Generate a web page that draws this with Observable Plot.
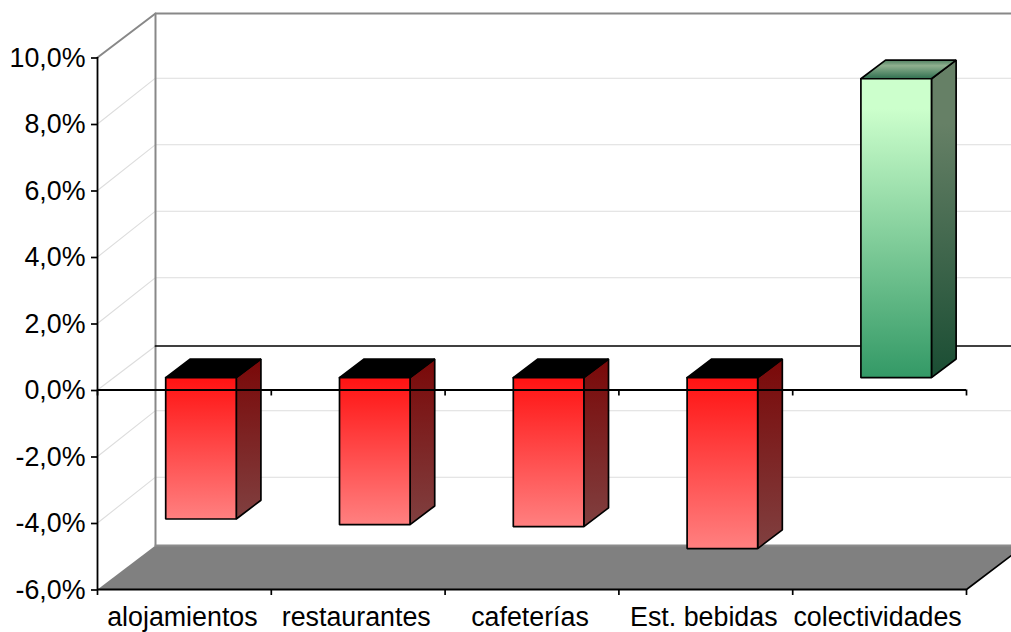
<!DOCTYPE html>
<html>
<head>
<meta charset="utf-8">
<style>html,body{margin:0;padding:0;background:#fff;overflow:hidden}svg{display:block;max-width:none!important}</style>
<script src="https://cdn.jsdelivr.net/npm/d3@7"></script>
<script src="https://cdn.jsdelivr.net/npm/@observablehq/plot@0.6"></script>
</head>
<body>
<script>
const categories = ["alojamientos", "restaurantes", "cafeterías", "Est. bebidas", "colectividades"];
const values = [-4.25, -4.42, -4.48, -5.14, 8.99];
const yTicks = [-6, -4, -2, 0, 2, 4, 6, 8, 10];
const slotEdges = [0, 1, 2, 3, 4, 5];
const labelPositions = [0.5, 1.5, 2.5, 3.5, 4.5];

// oblique projection: a point at depth d (0 front, 1 back wall) shifts by these data units
const depthX = 0.3337, depthY = 1.323;
const barFrontDepth = 0.28, barBackDepth = 0.705, barHalf = 0.203, barShift = 0.002, gridShift = 0.055;
const P = (x, v, d) => ({x: x + d * depthX, y: v + d * depthY});
const poly = (id, pts) => [...pts, pts[0]].map((p) => ({...p, id}));

function barFaces(i) {
  const v = values[i], c = i + 0.5 + barShift, l = c - barHalf, r = c + barHalf;
  const f = barFrontDepth, b = barBackDepth, top = Math.max(v, 0), bot = Math.min(v, 0);
  return {
    front: poly(i, [P(l, top, f), P(r, top, f), P(r, bot, f), P(l, bot, f)]),
    side: poly(i, [P(r, top, f), P(r, top, b), P(r, bot, b), P(r, bot, f)]),
    top: poly(i, [P(l, top, f), P(r, top, f), P(r, top, b), P(l, top, b)])
  };
}
const idx = values.map((_, i) => i);
const neg = idx.filter((i) => values[i] < 0), pos = idx.filter((i) => values[i] >= 0);
const faces = (set, k) => set.flatMap((i) => barFaces(i)[k]);

const faceMark = (data, fill, stroke = "black") =>
  Plot.line(data, {x: "x", y: "y", z: "id", fill, stroke, strokeWidth: 1.7, strokeLinejoin: "miter"});
const seg = (pts, stroke, strokeWidth) =>
  Plot.line(pts, {x: "x", y: "y", stroke, strokeWidth});

const gradient = (id, stops) =>
  `<linearGradient id="${id}" x1="0" y1="0" x2="0" y2="1">${stops.map(([o, c]) => `<stop offset="${o}" stop-color="${c}"/>`).join("")}</linearGradient>`;
const defs = () => {
  const s = d3.create("svg:defs");
  s.html(
    gradient("rf", [[0, "#ff1212"], [1, "#ff8080"]]) +
    gradient("rs", [[0, "#7a0808"], [1, "#804040"]]) +
    gradient("gf", [[0, "#ccffcc"], [0.1, "#ccffcc"], [1, "#339966"]]) +
    gradient("gs", [[0, "#668066"], [0.2, "#668066"], [1, "#1a4d33"]]) +
    gradient("gt", [[0, "#4f8060"], [0.3, "#8fb08f"], [1, "#2f7050"]])
  );
  return s.node();
};

const chart = Plot.plot({
  width: 1011,
  height: 632,
  marginLeft: 97,
  marginRight: 45,
  marginTop: 57,
  marginBottom: 43,
  style: {fontFamily: "'Liberation Sans', Arial, sans-serif", fontSize: "26.8px", color: "black", background: "white", overflow: "hidden"},
  x: {type: "linear", domain: [0, 5], axis: null},
  y: {type: "linear", domain: [-6, 10], axis: null},
  marks: [
    defs,
    // gridlines on the side wall and back wall
    ...yTicks.filter((t) => t !== 10 && t !== -6 && t !== 0).map((t) =>
      seg([P(0, t, 0), P(0, t + gridShift, 1), P(5, t + gridShift, 1)], "#dddddd", 1.1)
    ),
    seg([P(0, 0, 0), P(0, 0, 1)], "#dddddd", 1.1),
    // floor
    faceMark(poly("floor", [P(0, -6, 0), P(5, -6, 0), P(5, -6, 1), P(0, -6, 1)]), "#808080", "none"),
    // wall edges
    seg([P(0, 10, 0), P(0, 10, 1), P(5, 10, 1)], "#888888", 2),
    seg([P(0, 10, 1), P(0, -6, 1)], "#888888", 2),
    seg([P(0, -6, 1), P(5, -6, 1)], "#8c8c8c", 2),
    seg([P(5, -6, 0), P(5, -6, 1)], "black", 1.7),
    // back-wall zero line
    seg([P(0, 0, 1), P(5, 0, 1)], "black", 1.7),
    // bars
    faceMark(faces(neg, "side"), "url(#rs)"),
    faceMark(faces(neg, "top"), "black"),
    faceMark(faces(neg, "front"), "url(#rf)"),
    faceMark(faces(pos, "side"), "url(#gs)"),
    faceMark(faces(pos, "top"), "url(#gt)"),
    faceMark(faces(pos, "front"), "url(#gf)"),
    // front zero axis and its ticks
    Plot.ruleY([0], {x1: 0, x2: 5, stroke: "black", strokeWidth: 1.8}),
    Plot.ruleX(slotEdges, {y1: 0, y2: -0.18, stroke: "black", strokeWidth: 1.7}),
    // bottom axis line and ticks
    Plot.ruleY([-6], {x1: 0, x2: 5, stroke: "black", strokeWidth: 1.8}),
    Plot.ruleX(slotEdges, {y1: -6, y2: -6.18, stroke: "black", strokeWidth: 1.7}),
    // value axis
    Plot.ruleX([0], {y1: -6, y2: 10, stroke: "black", strokeWidth: 1.8}),
    Plot.axisY(yTicks, {
      anchor: "left", tickSize: 6, tickPadding: 6, strokeWidth: 1.7, stroke: "black",
      fontVariant: "normal", textStroke: "none", textStrokeWidth: 0, dy: 0.5,
      tickFormat: (d) => d.toFixed(1).replace(".", ",") + "%", label: null
    }),
    Plot.axisX(labelPositions, {
      anchor: "bottom", tickSize: 0, tickPadding: 17, dx: -2, fontVariant: "normal",
      tickFormat: (d) => categories[d - 0.5], label: null
    })
  ]
});
document.body.appendChild(chart);
</script>
</body>
</html>
